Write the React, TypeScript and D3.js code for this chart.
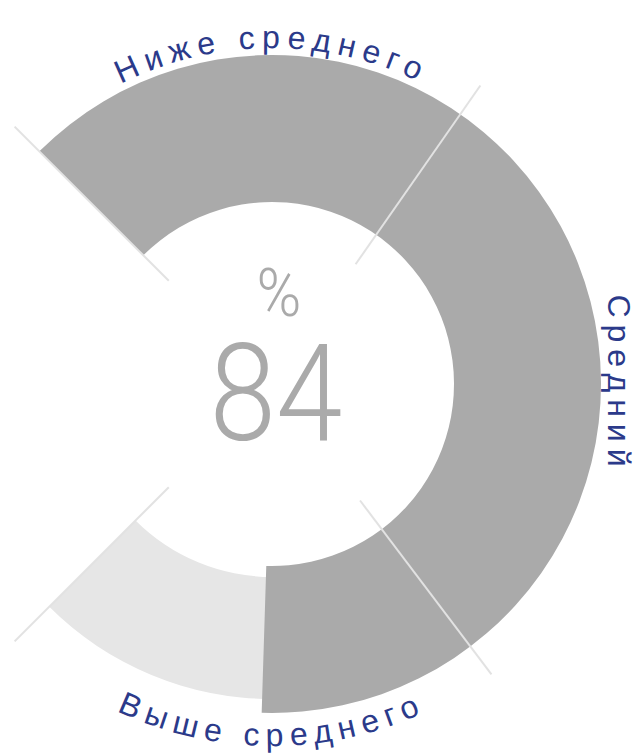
import React, { useEffect, useRef } from 'react';
import * as d3 from 'd3';

// segments of the gauge, in percent of the full sweep
const categories = ['Ниже среднего', 'Средний', 'Выше среднего'];
const shares = [29.6, 40, 30.4];
const score = 84;
const unit = '%';

const App: React.FC = () => {
  const svgRef = useRef<SVGSVGElement | null>(null);

  useEffect(() => {
    if (!svgRef.current) return;
    const svg = d3.select(svgRef.current);
    svg.selectAll('*').remove();

    const cx = 272;
    const cy = 384;
    const g = svg.append('g').attr('transform', `translate(${cx},${cy})`);

    const rad = (d: number) => (d * Math.PI) / 180;
    // 270 degree sweep, open at the left
    const angle = d3.scaleLinear().domain([0, 100]).range([rad(-45), rad(225)]);

    const total = d3.sum(shares);
    const edges = [0, ...Array.from(d3.cumsum(shares), (v) => (v / total) * 100)];

    // light track
    const track = d3.arc<any>().innerRadius(193).outerRadius(315);
    g.append('path')
      .attr('d', track({ startAngle: angle(0), endAngle: angle(100) }))
      .attr('fill', '#e6e6e6');

    // value arc, a bit wider than the track
    const bar = d3.arc<any>().innerRadius(182).outerRadius(329);
    g.append('path')
      .attr('d', bar({ startAngle: angle(0), endAngle: angle(score) }))
      .attr('fill', '#aaaaaa');

    // separators between segments
    const r0 = 146;
    const r1 = 364;
    g.selectAll('line.sep')
      .data(edges)
      .join('line')
      .attr('class', 'sep')
      .attr('x1', (d) => r0 * Math.sin(angle(d)))
      .attr('y1', (d) => -r0 * Math.cos(angle(d)))
      .attr('x2', (d) => r1 * Math.sin(angle(d)))
      .attr('y2', (d) => -r1 * Math.cos(angle(d)))
      .attr('stroke', '#e2e2e2')
      .attr('stroke-width', 2);

    // label paths
    const topPath = d3.path();
    topPath.arc(0, 0, 336, -Math.PI, 0, false);
    const bottomPath = d3.path();
    bottomPath.arc(0, 0, 362, Math.PI, 0, true);
    const defs = svg.append('defs');
    defs.append('path').attr('id', 'lbl-top').attr('d', topPath.toString());
    defs.append('path').attr('id', 'lbl-bottom').attr('d', bottomPath.toString());

    const labelFont = "'Liberation Sans', Arial, Helvetica, sans-serif";
    const labelColor = '#2b3a8a';

    categories.forEach((name, i) => {
      const mid = (angle(edges[i]) + angle(edges[i + 1])) / 2;
      const deg = Math.round((mid * 180) / Math.PI / 90) * 90;
      if (deg % 180 === 0) {
        g.append('text')
          .attr('font-family', labelFont)
          .attr('font-size', 32)
          .attr('letter-spacing', 7)
          .attr('fill', labelColor)
          .attr('text-anchor', 'middle')
          .append('textPath')
          .attr('href', deg === 0 ? '#lbl-top' : '#lbl-bottom')
          .attr('startOffset', '50%')
          .text(name);
      } else {
        const a = rad(deg);
        g.append('text')
          .attr('transform', `translate(${336 * Math.sin(a)},${-336 * Math.cos(a)}) rotate(${deg})`)
          .attr('font-family', labelFont)
          .attr('font-size', 32)
          .attr('letter-spacing', 7)
          .attr('fill', labelColor)
          .attr('text-anchor', 'middle')
          .text(name);
      }
    });

    // center value (thin, slightly condensed)
    g.append('text')
      .attr('transform', 'translate(7,-68) scale(0.92,1)')
      .attr('text-anchor', 'middle')
      .attr('font-family', 'Roboto, sans-serif')
      .attr('font-weight', 300)
      .attr('font-size', 66)
      .attr('fill', '#aaaaaa')
      .text(unit);

    g.append('text')
      .attr('transform', 'translate(4,56) scale(0.88,1)')
      .attr('text-anchor', 'middle')
      .attr('font-family', 'Roboto, sans-serif')
      .attr('font-weight', 300)
      .attr('font-size', 136)
      .attr('fill', '#aaaaaa')
      .text(String(score));
  }, []);

  return (
    <svg
      ref={svgRef}
      width={637}
      height={756}
      style={{ position: 'absolute', left: 0, top: 0, display: 'block', background: '#fff' }}
    />
  );
};

export default App;
